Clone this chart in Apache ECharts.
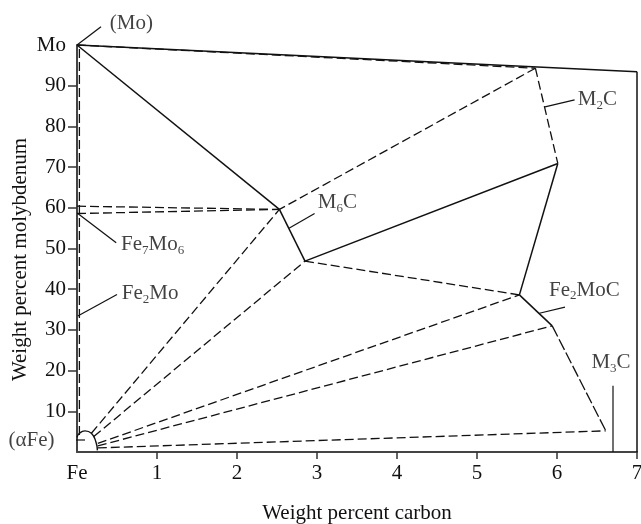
<!DOCTYPE html>
<html><head><meta charset="utf-8">
<script src="https://cdn.jsdelivr.net/npm/echarts@6/dist/echarts.min.js"></script>
<style>html,body{margin:0;padding:0;background:#fff}#c{width:641px;height:524px}</style>
</head><body><div id="c"></div>
<script>
// ---- axis ticks / labels ----
const xTickValues = [1, 2, 3, 4, 5, 6, 7];
const xLabelValues = [0, 1, 2, 3, 4, 5, 6, 7];
const xLabelTexts = ['Fe', '1', '2', '3', '4', '5', '6', '7'];
const yTickValues = [10, 20, 30, 40, 50, 60, 70, 80, 90];
const yLabelValues = [10, 20, 30, 40, 50, 60, 70, 80, 90, 100];
const yLabelTexts = ['10', '20', '30', '40', '50', '60', '70', '80', '90', 'Mo'];

// ---- phase-diagram vertices (wt% C, wt% Mo) ----
const pMo = [0, 100];
const pTopRight = [7, 93.4];
const pBottomRight = [7, 0];
const pM2CTop = [5.73, 94.3];
const pM2CBottom = [6.01, 70.9];
const pM6CTop = [2.53, 59.6];
const pM6CBottom = [2.85, 46.9];
const pFe2MoCTop = [5.53, 38.6];
const pFe2MoCBottom = [5.94, 31.0];
const pM3C = [6.61, 5.2];
const pFe7Mo6Upper = [0, 60.4];
const pFe7Mo6Lower = [0, 58.6];
const leftDashed = [[0.03, 4.2], [0.03, 100]];
const alphaFeEnds = [[0.18, 4.6], [0.21, 3.8], [0.26, 2.1], [0.26, 1.5], [0.26, 1.0]];
const alphaFeTargets = [pM6CTop, pM6CBottom, pFe2MoCTop, pFe2MoCBottom, pM3C];
const alphaFeArc = [[0, 3.6], [0.03, 4.6], [0.1, 5.2], [0.18, 4.6], [0.235, 2.6], [0.255, 0.4]];

const solidSegments = [
  [pMo, pTopRight], [pTopRight, pBottomRight], [pMo, pM6CTop], [pM6CTop, pM6CBottom],
  [pM6CBottom, pM2CBottom], [pM2CBottom, pFe2MoCTop], [pFe2MoCTop, pFe2MoCBottom]
];
const dashedSegments = [
  [pMo, pM2CTop], [pM2CTop, pM2CBottom], [pM2CTop, pM6CTop],
  [pFe7Mo6Upper, pM6CTop], [pFe7Mo6Lower, pM6CTop], leftDashed, [pM6CBottom, pFe2MoCTop]
];
const longDashSegments = [[pFe2MoCBottom, pM3C]];

// ---- annotations ----
const labelTexts = ['(Mo)', '{n|Fe}{s|7}{n|Mo}{s|6}', '{n|Fe}{s|2}{n|Mo}', '{n|M}{s|6}{n|C}',
  '{n|M}{s|2}{n|C}', '{n|Fe}{s|2}{n|MoC}', '{n|M}{s|3}{n|C}'];
const labelAnchors = [[0.41, 105.4], [0.55, 50.9], [0.56, 39.0], [3.01, 61.4], [6.26, 86.5], [5.9, 39.8], [6.43, 21.9]];
const alphaFeLabel = '(αFe)';
const alphaFeAnchor = [-0.28, 2.95];
const leaderLines = [
  [[0, 100], [0.3, 104.5]], [[0.01, 58.6], [0.49, 51.4]], [[0.01, 33.4], [0.5, 38.7]],
  [[2.65, 55.0], [2.97, 58.6]], [[5.85, 84.8], [6.22, 86.5]], [[5.78, 34.1], [6.1, 35.6]],
  [[6.7, 16.3], [6.7, 0]], [[-0.25, 2.95], [0.1, 2.95]]
];

const FONT = 'Liberation Serif';
const INK = '#111';
const rich = {
  n: { fontFamily: FONT, fontSize: 21, color: INK, lineHeight: 25, verticalAlign: 'middle' },
  s: { fontFamily: FONT, fontSize: 13, color: INK, lineHeight: 25, verticalAlign: 'bottom' }
};

function seg(data, type, width) {
  return { type: 'line', data: data, symbol: 'none', silent: true, clip: false, animation: false,
    lineStyle: { color: INK, width: width, type: type } };
}
const series = [];
solidSegments.forEach(s => series.push(seg(s, 'solid', 1.5)));
dashedSegments.forEach(s => series.push(seg(s, [9, 4], 1.3)));
longDashSegments.forEach(s => series.push(seg(s, [12, 3], 1.3)));
alphaFeEnds.forEach((p, i) => series.push(seg([p, alphaFeTargets[i]], [9, 4], 1.3)));
leaderLines.forEach(s => series.push(seg(s, 'solid', 1.2)));
series.push(Object.assign(seg(alphaFeArc, 'solid', 1.4), { smooth: true }));
series.push({
  type: 'scatter', symbolSize: 0, clip: false, silent: true, animation: false,
  data: labelAnchors.map((p, i) => ({ value: p, name: labelTexts[i] })),
  label: { show: true, position: 'right', distance: 0, formatter: '{b}',
    fontFamily: FONT, fontSize: 21, color: INK, rich: rich }
});
series.push({
  type: 'scatter', symbolSize: 0, clip: false, silent: true, animation: false,
  data: [{ value: alphaFeAnchor, name: alphaFeLabel }],
  label: { show: true, position: 'left', distance: 0, formatter: '{b}',
    fontFamily: FONT, fontSize: 21, color: INK }
});

const chart = echarts.init(document.getElementById('c'), null, { renderer: 'canvas' });
chart.setOption({
  backgroundColor: '#fff',
  animation: false,
  grid: { left: 77, right: 4, top: 45, bottom: 72, containLabel: false, outerBoundsMode: 'none' },
  xAxis: {
    type: 'value', min: 0, max: 7, interval: 1,
    name: 'Weight percent carbon', nameLocation: 'middle', nameGap: 51, nameMoveOverlap: false,
    nameTextStyle: { fontFamily: FONT, fontSize: 21, color: INK },
    axisLine: { show: true, lineStyle: { color: '#444', width: 2 } },
    axisTick: { show: true, inside: false, length: 7, customValues: xTickValues, lineStyle: { color: '#333', width: 1.5 } },
    axisLabel: { customValues: xLabelValues, margin: 11, fontFamily: FONT, fontSize: 21, color: INK,
      formatter: v => xLabelTexts[xLabelValues.indexOf(v)] },
    splitLine: { show: false }
  },
  yAxis: {
    type: 'value', min: 0, max: 100, interval: 10,
    name: 'Weight percent molybdenum', nameLocation: 'middle', nameGap: 46, nameRotate: 90, nameMoveOverlap: false,
    nameTextStyle: { fontFamily: FONT, fontSize: 21, color: INK, padding: [0, 22, 0, 0] },
    axisLine: { show: true, lineStyle: { color: '#444', width: 2 } },
    axisTick: { show: true, inside: false, length: 9, customValues: yTickValues, lineStyle: { color: '#333', width: 1.5 } },
    axisLabel: { customValues: yLabelValues, margin: 11, fontFamily: FONT, fontSize: 21, color: INK,
      formatter: v => yLabelTexts[yLabelValues.indexOf(v)] },
    splitLine: { show: false }
  },
  series: series
});
</script>
</body></html>
